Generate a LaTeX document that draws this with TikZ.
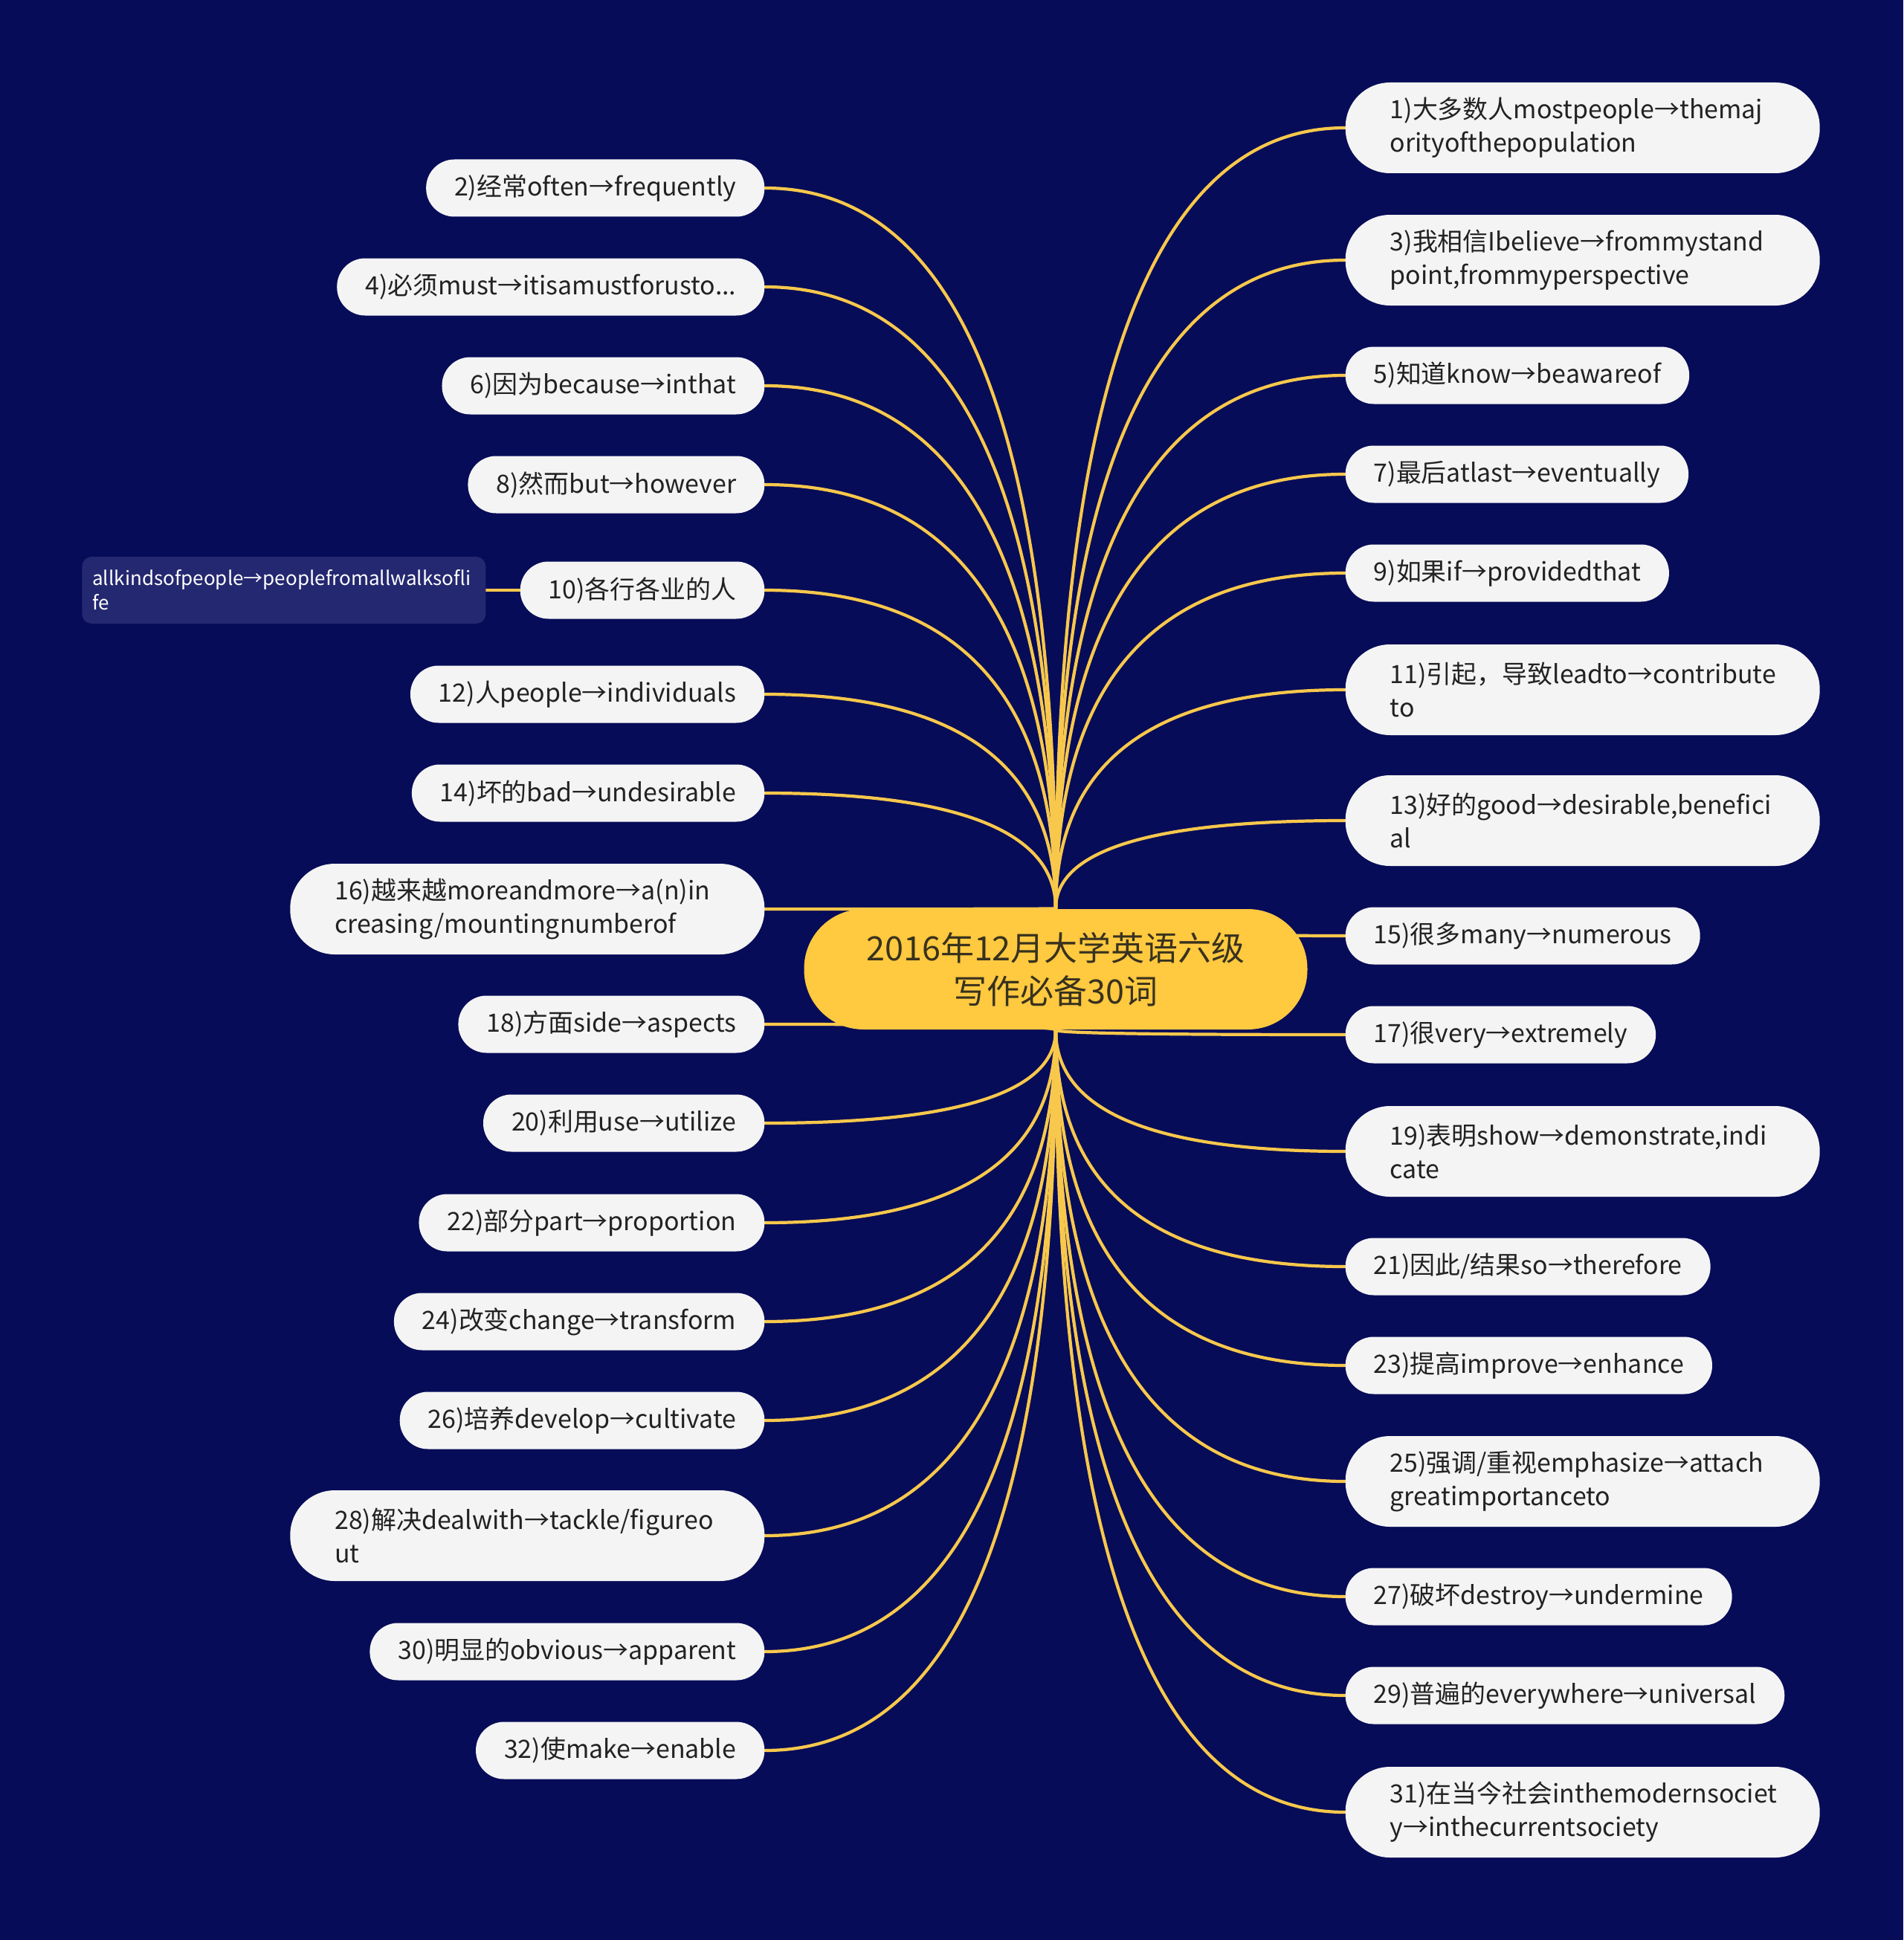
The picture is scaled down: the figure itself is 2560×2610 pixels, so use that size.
\documentclass[tikz,border=0pt]{standalone}
\usepackage{fontspec}
\setmainfont{Noto Sans CJK SC}
\usepackage{xcolor}
\usepackage{tikz}
\usetikzlibrary{calc}

\definecolor{bgnavy}{RGB}{7,12,88}
\definecolor{leaffill}{RGB}{244,244,244}
\definecolor{leaftext}{RGB}{34,34,34}
\definecolor{linkgold}{RGB}{248,200,76}
\definecolor{rootfill}{RGB}{255,201,64}
\definecolor{roottext}{RGB}{56,50,30}
\definecolor{subfill}{RGB}{36,40,112}

\pgfdeclarelayer{back}
\pgfdeclarelayer{links}
\pgfsetlayers{back,links,main}

\tikzset{
  leaf/.style={fill=leaffill, text=leaftext, font=\fontsize{9.65}{12.8}\selectfont,
    rounded corners=3.8mm, minimum height=7.7mm, inner xsep=3.8mm, inner ysep=0mm},
  leaftwo/.style={leaf, rounded corners=6mm, minimum height=12.2mm, inner xsep=6mm,
    text width=51.8mm, align=left},
  link/.style={draw=linkgold, line width=1.2pt, line cap=round},
  twig/.style={to path={.. controls ($(\tikztostart)!0.667!(\tikztostart |- \tikztotarget)$)
    and ($(\tikztotarget)!0.667!(\tikztostart |- \tikztotarget)$) .. (\tikztotarget)}}
}

\begin{document}
\begin{tikzpicture}[x=0.1mm, y=-0.1mm]
  \begin{pgfonlayer}{back}
    \fill[bgnavy] (0,0) rectangle (2560,2610);
  \end{pgfonlayer}
  \useasboundingbox (0,0) rectangle (2560,2610);

  % centre
  \node[fill=rootfill, text=roottext, minimum width=67.7mm, minimum height=16.2mm,
    rounded corners=8mm, align=center, inner sep=0mm,
    font=\fontsize{12.8}{16.5}\selectfont] (root) at (1420,1304)
    {2016年12月大学英语六级\\写作必备30词};

  % right side
  \node[leaftwo, anchor=west] (r1) at (1809,172) {1)大多数人mostpeople→themaj\\orityofthepopulation};
  \node[leaftwo, anchor=west] (r3) at (1809,350) {3)我相信Ibelieve→frommystand\\point,frommyperspective};
  \node[leaf, anchor=west] (r5) at (1809,505) {5)知道know→beawareof};
  \node[leaf, anchor=west] (r7) at (1809,638) {7)最后atlast→eventually};
  \node[leaf, anchor=west] (r9) at (1809,771) {9)如果if→providedthat};
  \node[leaftwo, anchor=west] (r11) at (1809,928) {11)引起，导致leadto→contribute\\to};
  \node[leaftwo, anchor=west] (r13) at (1809,1104) {13)好的good→desirable,benefici\\al};
  \node[leaf, anchor=west] (r15) at (1809,1259) {15)很多many→numerous};
  \node[leaf, anchor=west] (r17) at (1809,1392) {17)很very→extremely};
  \node[leaftwo, anchor=west] (r19) at (1809,1549) {19)表明show→demonstrate,indi\\cate};
  \node[leaf, anchor=west] (r21) at (1809,1704) {21)因此/结果so→therefore};
  \node[leaf, anchor=west] (r23) at (1809,1837) {23)提高improve→enhance};
  \node[leaftwo, anchor=west] (r25) at (1809,1993) {25)强调/重视emphasize→attach\\greatimportanceto};
  \node[leaf, anchor=west] (r27) at (1809,2148) {27)破坏destroy→undermine};
  \node[leaf, anchor=west] (r29) at (1809,2281) {29)普遍的everywhere→universal};
  \node[leaftwo, anchor=west] (r31) at (1809,2438) {31)在当今社会inthemodernsociet\\y→inthecurrentsociety};

  % left side
  \node[leaf, anchor=east] (l2) at (1029,253) {2)经常often→frequently};
  \node[leaf, anchor=east] (l4) at (1029,386) {4)必须must→itisamustforusto...};
  \node[leaf, anchor=east] (l6) at (1029,519) {6)因为because→inthat};
  \node[leaf, anchor=east] (l8) at (1029,652) {8)然而but→however};
  \node[leaf, anchor=east] (l10) at (1029,794) {10)各行各业的人};
  \node[leaf, anchor=east] (l12) at (1029,934) {12)人people→individuals};
  \node[leaf, anchor=east] (l14) at (1029,1067) {14)坏的bad→undesirable};
  \node[leaftwo, anchor=east] (l16) at (1029,1223) {16)越来越moreandmore→a(n)in\\creasing/mountingnumberof};
  \node[leaf, anchor=east] (l18) at (1029,1378) {18)方面side→aspects};
  \node[leaf, anchor=east] (l20) at (1029,1511) {20)利用use→utilize};
  \node[leaf, anchor=east] (l22) at (1029,1645) {22)部分part→proportion};
  \node[leaf, anchor=east] (l24) at (1029,1778) {24)改变change→transform};
  \node[leaf, anchor=east] (l26) at (1029,1911) {26)培养develop→cultivate};
  \node[leaftwo, anchor=east] (l28) at (1029,2066) {28)解决dealwith→tackle/figureo\\ut};
  \node[leaf, anchor=east] (l30) at (1029,2222) {30)明显的obvious→apparent};
  \node[leaf, anchor=east] (l32) at (1029,2355) {32)使make→enable};

  \node[fill=subfill, text=white, rounded corners=1.3mm, anchor=east, minimum height=9mm,
    inner xsep=1.4mm, inner ysep=0mm, text width=51.5mm, align=left,
    font=\fontsize{7.4}{9.4}\selectfont] (sub) at (654,794)
    {allkindsofpeople→peoplefromallwalksofli\\fe};

  \begin{pgfonlayer}{links}
  \draw[link] (root.north) to[twig] (r1.west);
  \draw[link] (root.north) to[twig] (r3.west);
  \draw[link] (root.north) to[twig] (r5.west);
  \draw[link] (root.north) to[twig] (r7.west);
  \draw[link] (root.north) to[twig] (r9.west);
  \draw[link] (root.north) to[twig] (r11.west);
  \draw[link] (root.north) to[twig] (r13.west);
  \draw[link] (root.north) to[twig] (r15.west);
  \draw[link] (root.south) to[twig] (r17.west);
  \draw[link] (root.south) to[twig] (r19.west);
  \draw[link] (root.south) to[twig] (r21.west);
  \draw[link] (root.south) to[twig] (r23.west);
  \draw[link] (root.south) to[twig] (r25.west);
  \draw[link] (root.south) to[twig] (r27.west);
  \draw[link] (root.south) to[twig] (r29.west);
  \draw[link] (root.south) to[twig] (r31.west);
  \draw[link] (root.north) to[twig] (l2.east);
  \draw[link] (root.north) to[twig] (l4.east);
  \draw[link] (root.north) to[twig] (l6.east);
  \draw[link] (root.north) to[twig] (l8.east);
  \draw[link] (root.north) to[twig] (l10.east);
  \draw[link] (root.north) to[twig] (l12.east);
  \draw[link] (root.north) to[twig] (l14.east);
  \draw[link] (root.north) to[twig] (l16.east);
  \draw[link] (root.south) to[twig] (l18.east);
  \draw[link] (root.south) to[twig] (l20.east);
  \draw[link] (root.south) to[twig] (l22.east);
  \draw[link] (root.south) to[twig] (l24.east);
  \draw[link] (root.south) to[twig] (l26.east);
  \draw[link] (root.south) to[twig] (l28.east);
  \draw[link] (root.south) to[twig] (l30.east);
  \draw[link] (root.south) to[twig] (l32.east);
  \draw[link] (l10.west) -- (sub.east);
  \end{pgfonlayer}
\end{tikzpicture}
\end{document}
